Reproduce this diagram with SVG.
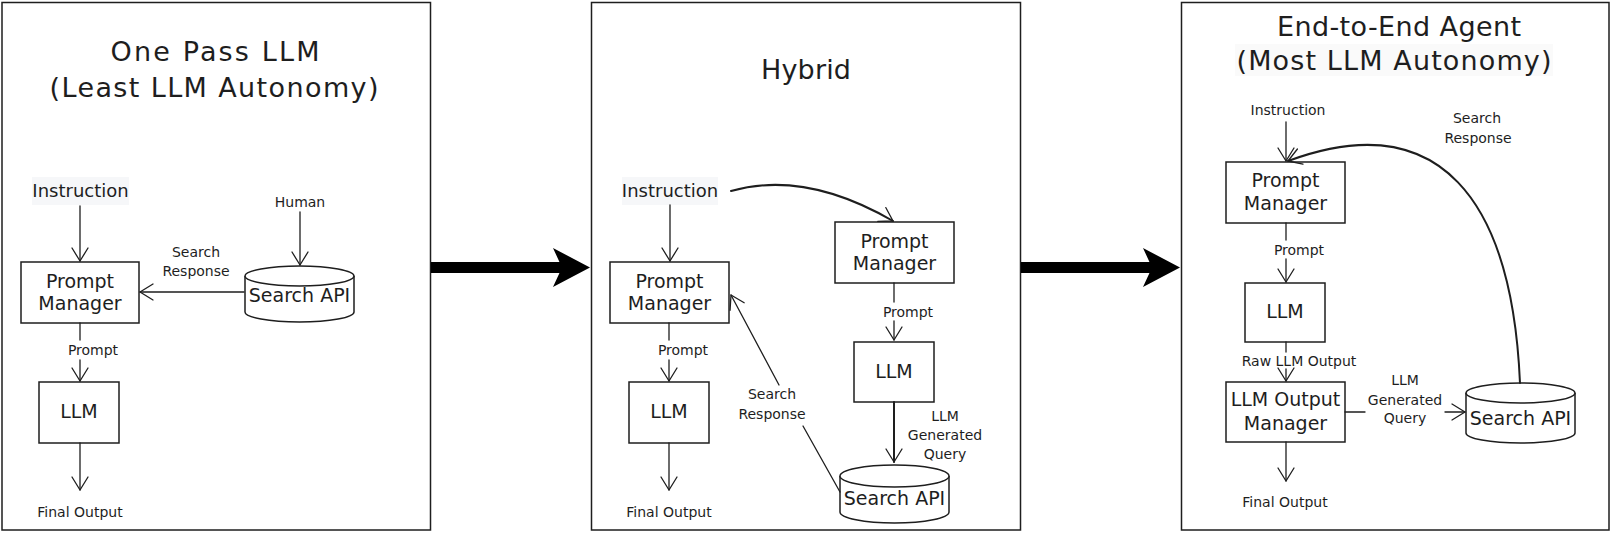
<svg xmlns="http://www.w3.org/2000/svg" width="1611" height="534" viewBox="0 0 1611 534">
<defs>
<style>
text{font-family:"DejaVu Sans","Liberation Sans",sans-serif;fill:#1e1e1e;text-anchor:middle}
.title{font-size:27px}
.box{font-size:19px}
.lbl{font-size:14px}
.ins{font-size:18px}
.panel{fill:#fff;stroke:#1e1e1e;stroke-width:1.5}
.node{fill:#fff;stroke:#1e1e1e;stroke-width:1.5}
.hl{fill:#f6f7f9}
.c{fill:none;stroke:#1e1e1e;stroke-width:1.3;stroke-linecap:round}
.cd{fill:none;stroke:#1e1e1e;stroke-width:2;stroke-linecap:round}
.big{fill:#000}
</style>
<marker id="ah" viewBox="-14 -10 16 20" refX="0" refY="0" markerWidth="16" markerHeight="20" markerUnits="userSpaceOnUse" orient="auto">
<path d="M-13,-8 L0,0 L-13,8" fill="none" stroke="#1e1e1e" stroke-width="1.3" stroke-linecap="round" stroke-linejoin="round"/>
</marker>
</defs>
<rect x="0" y="0" width="1611" height="534" fill="#fff"/>

<g id="panels">
<rect class="panel" x="2" y="2.5" width="428.5" height="527.5"/>
<rect class="panel" x="591.5" y="2.5" width="429" height="527.5"/>
<rect class="panel" x="1181.5" y="2.5" width="427.5" height="527.5"/>
</g>

<g id="big-arrows">
<rect class="big" x="431" y="262" width="132" height="11"/>
<polygon class="big" points="553,248 590,267.5 553,287 562,267.5"/>
<rect class="big" x="1021" y="262" width="132" height="11"/>
<polygon class="big" points="1143,248 1180,267.5 1143,287 1152,267.5"/>
</g>

<g id="titles">
<text class="title" x="215" y="61" textLength="209" lengthAdjust="spacing">One Pass LLM</text>
<text class="title" x="214" y="97" textLength="329" lengthAdjust="spacing">(Least LLM Autonomy)</text>
<text class="title" x="806" y="79" textLength="90" lengthAdjust="spacing">Hybrid</text>
<rect x="1235" y="44" width="318" height="32" fill="#fafafa"/>
<text class="title" x="1399" y="36" textLength="244" lengthAdjust="spacing">End-to-End Agent</text>
<text class="title" x="1394" y="70" textLength="315" lengthAdjust="spacing">(Most LLM Autonomy)</text>
</g>

<!-- Panel 1 nodes -->
<g id="p1-instruction">
<rect class="hl" x="32" y="177" width="97" height="28"/>
<text class="ins" x="80.5" y="197">Instruction</text>
</g>
<g id="p1-human"><text class="lbl" x="300" y="207">Human</text></g>
<g id="p1-prompt-manager">
<rect class="node" x="21" y="262" width="118" height="61"/>
<text class="box" x="80" y="288">Prompt</text>
<text class="box" x="80" y="310">Manager</text>
</g>
<g id="p1-search-api">
<path class="node" d="M245,276 A54.5,10 0 0 1 354,276 L354,312 A54.5,10 0 0 1 245,312 Z"/>
<path class="node" fill="none" d="M245,276 A54.5,10 0 0 0 354,276"/>
<text class="box" x="299.5" y="302">Search API</text>
</g>
<g id="p1-llm">
<rect class="node" x="39" y="382" width="80" height="61"/>
<text class="box" x="79" y="418">LLM</text>
</g>
<g id="p1-final"><text class="lbl" x="80" y="517">Final Output</text></g>

<!-- Panel 2 nodes -->
<g id="p2-instruction">
<rect class="hl" x="622" y="177" width="96" height="28"/>
<text class="ins" x="670" y="197">Instruction</text>
</g>
<g id="p2-prompt-manager-left">
<rect class="node" x="610" y="262" width="119" height="61"/>
<text class="box" x="669.5" y="288">Prompt</text>
<text class="box" x="669.5" y="310">Manager</text>
</g>
<g id="p2-llm-left">
<rect class="node" x="629" y="382" width="80" height="61"/>
<text class="box" x="669" y="418">LLM</text>
</g>
<g id="p2-final"><text class="lbl" x="669" y="517">Final Output</text></g>
<g id="p2-prompt-manager-right">
<rect class="node" x="835" y="222" width="119" height="61"/>
<text class="box" x="894.5" y="248">Prompt</text>
<text class="box" x="894.5" y="270">Manager</text>
</g>
<g id="p2-llm-right">
<rect class="node" x="854" y="342" width="80" height="60"/>
<text class="box" x="894" y="378">LLM</text>
</g>
<g id="p2-search-api">
<path class="node" d="M840,476 A54.5,11 0 0 1 949,476 L949,512 A54.5,11 0 0 1 840,512 Z"/>
<path class="node" fill="none" d="M840,476 A54.5,11 0 0 0 949,476"/>
<text class="box" x="894.5" y="505">Search API</text>
</g>

<!-- Panel 3 nodes -->
<g id="p3-instruction"><text class="lbl" x="1288" y="115">Instruction</text></g>
<g id="p3-prompt-manager">
<rect class="node" x="1226" y="162" width="119" height="61"/>
<text class="box" x="1285.5" y="187">Prompt</text>
<text class="box" x="1285.5" y="210">Manager</text>
</g>
<g id="p3-llm">
<rect class="node" x="1245" y="283" width="80" height="59"/>
<text class="box" x="1285" y="318">LLM</text>
</g>
<g id="p3-llm-output-manager">
<rect class="node" x="1226" y="382" width="119" height="60"/>
<text class="box" x="1285.5" y="406">LLM Output</text>
<text class="box" x="1285.5" y="430">Manager</text>
</g>
<g id="p3-search-api">
<path class="node" d="M1466,393 A54.5,10 0 0 1 1575,393 L1575,433 A54.5,10 0 0 1 1466,433 Z"/>
<path class="node" fill="none" d="M1466,393 A54.5,10 0 0 0 1575,393"/>
<text class="box" x="1520.5" y="425">Search API</text>
</g>
<g id="p3-final"><text class="lbl" x="1285" y="507">Final Output</text></g>

<!-- Connectors -->
<g id="connectors">
<path class="c" d="M80,206 L80,261" marker-end="url(#ah)"/>
<path class="c" d="M300,212 L300,265" marker-end="url(#ah)"/>
<path class="c" d="M244,292 L140,292" marker-end="url(#ah)"/>
<path class="c" d="M80,323 L80,340"/>
<path class="c" d="M80,360 L80,381" marker-end="url(#ah)"/>
<path class="c" d="M80,443 L80,490" marker-end="url(#ah)"/>

<path class="c" d="M670,205 L670,261" marker-end="url(#ah)"/>
<path class="cd" d="M731,191 Q805,170 893,221" marker-end="url(#ah)"/>
<path class="c" d="M669,323 L669,340"/>
<path class="c" d="M669,360 L669,381" marker-end="url(#ah)"/>
<path class="c" d="M669,443 L669,490" marker-end="url(#ah)"/>
<path class="c" d="M894,283 L894,302"/>
<path class="c" d="M894,321 L894,340" marker-end="url(#ah)"/>
<path class="cd" d="M894,402 L894,462" marker-end="url(#ah)"/>
<path class="c" d="M840,492 L803,426"/>
<path class="c" d="M779,385 L731,295" marker-end="url(#ah)"/>

<path class="c" d="M1286,122 L1286,161" marker-end="url(#ah)"/>
<path class="cd" d="M1520,383 C1512,200 1440,105 1288,161" marker-end="url(#ah)"/>
<path class="c" d="M1286,223 L1286,240"/>
<path class="c" d="M1286,259 L1286,282" marker-end="url(#ah)"/>
<path class="c" d="M1286,342 L1286,352"/>
<path class="c" d="M1286,369 L1286,381" marker-end="url(#ah)"/>
<path class="c" d="M1286,442 L1286,481" marker-end="url(#ah)"/>
<path class="c" d="M1345,412 L1365,412"/>
<path class="c" d="M1445,412 L1465,412" marker-end="url(#ah)"/>
</g>

<g id="connector-labels">
<text class="lbl" x="196" y="257">Search</text>
<text class="lbl" x="196" y="276">Response</text>
<text class="lbl" x="93" y="355">Prompt</text>
<text class="lbl" x="683" y="355">Prompt</text>
<text class="lbl" x="908" y="317">Prompt</text>
<text class="lbl" x="945" y="421">LLM</text>
<text class="lbl" x="945" y="440">Generated</text>
<text class="lbl" x="945" y="459">Query</text>
<text class="lbl" x="772" y="399">Search</text>
<text class="lbl" x="772" y="419">Response</text>
<text class="lbl" x="1477" y="123">Search</text>
<text class="lbl" x="1478" y="143">Response</text>
<text class="lbl" x="1299" y="255">Prompt</text>
<text class="lbl" x="1299" y="366">Raw LLM Output</text>
<text class="lbl" x="1405" y="385">LLM</text>
<text class="lbl" x="1405" y="405">Generated</text>
<text class="lbl" x="1405" y="423">Query</text>
</g>
</svg>
